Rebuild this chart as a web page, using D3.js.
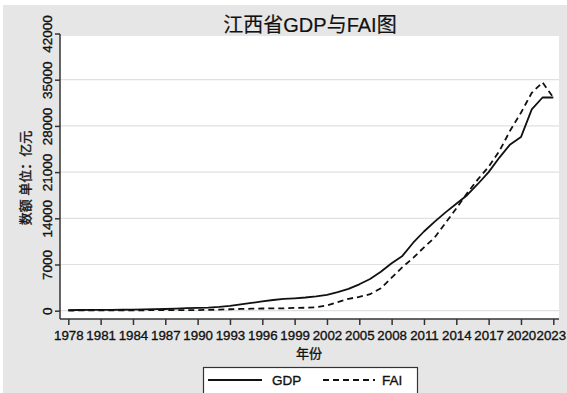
<!DOCTYPE html>
<html>
<head>
<meta charset="utf-8">
<script src="https://cdn.jsdelivr.net/npm/d3@7/dist/d3.min.js"></script>
<style>
  html, body { margin: 0; padding: 0; background: #ffffff; }
  svg { display: block; }
  text { font-family: "Liberation Sans", Arial, "Noto Sans CJK SC", sans-serif; fill: #111; stroke: #111; stroke-width: 0.35px; }
</style>
</head>
<body>
<script>
const years = d3.range(1978, 2024);
const gdp = [90, 105, 115, 125, 135, 145, 170, 210, 230, 260,
             325, 375, 430, 480, 570, 720, 950, 1170, 1410, 1620,
             1780, 1880, 2000, 2170, 2400, 2800, 3300, 4000, 4800, 5900,
             7200, 8300, 10300, 12000, 13500, 14900, 16200, 17500, 19200, 21000,
             23200, 25200, 26300, 30500, 32300, 32300];
const fai = [30, 35, 40, 45, 50, 55, 60, 70, 80, 90,
             100, 100, 100, 120, 160, 220, 270, 300, 330, 350,
             365, 420, 450, 520, 800, 1300, 1800, 2100, 2500, 3400,
             5000, 6600, 8000, 9600, 11100, 13300, 15500, 17800, 19900, 21800,
             24200, 27300, 30000, 33000, 34600, 32300];
const yTicks = [0, 7000, 14000, 21000, 28000, 35000, 42000];
const xTicks = d3.range(1978, 2024, 3);
const seriesNames = ["GDP", "FAI"];
const titleText = "江西省GDP与FAI图";
const xTitle = "年份";
const yTitle = "数额 单位：亿元";

(function () {
const W = 567, H = 393;
const svg = d3.select("body").append("svg").attr("width", W).attr("height", H);

svg.append("rect").attr("x", 3).attr("y", 5).attr("width", W - 3).attr("height", H - 5).attr("fill", "#e6e6e6");

const pL = 60, pR = 559, pT = 34, pB = 319;
const x = d3.scaleLinear().domain([1978, 2023]).range([68.3, 553.3]);
const y = d3.scaleLinear().domain([0, 42000]).range([310.7, 33.5]);

svg.append("rect").attr("x", pL).attr("y", 36).attr("width", pR - pL).attr("height", pB - 36).attr("fill", "#ffffff");

// gridlines
svg.append("g").selectAll("line").data(yTicks.slice(0, -1)).join("line")
  .attr("x1", pL).attr("x2", pR)
  .attr("y1", d => y(d)).attr("y2", d => y(d))
  .attr("stroke", "#e0e0e0").attr("stroke-width", 1.2);

// axes
const yAxis = svg.append("g").attr("transform", `translate(${pL},0)`)
  .call(d3.axisLeft(y).tickValues(yTicks).tickSize(5).tickPadding(6).tickFormat(d3.format("d")));
yAxis.select(".domain").attr("d", `M0,${pT}V${pB}`).attr("stroke", "#333").attr("stroke-width", 1.5);
yAxis.selectAll(".tick line").attr("stroke", "#333").attr("stroke-width", 1.5);
yAxis.selectAll(".tick text")
  .attr("transform", "rotate(-90)")
  .attr("x", 0).attr("y", -8)
  .attr("text-anchor", "middle")
  .attr("dy", "0")
  .style("font-size", "13.5px");

const xAxis = svg.append("g").attr("transform", `translate(0,${pB})`)
  .call(d3.axisBottom(x).tickValues(xTicks).tickSize(6).tickPadding(5).tickFormat(d3.format("d")));
xAxis.select(".domain").attr("d", `M${pL},0H${pR}`).attr("stroke", "#333").attr("stroke-width", 1.5);
xAxis.selectAll(".tick line").attr("stroke", "#333").attr("stroke-width", 1.5);
xAxis.selectAll(".tick text").style("font-size", "13.3px").attr("y", 12)
  .attr("dx", d => d === 2023 ? -2.5 : 0);

// lines
const line = d3.line().x((d, i) => x(years[i])).y(d => y(d)).curve(d3.curveLinear);
svg.append("path").datum(gdp).attr("d", line).attr("fill", "none")
  .attr("stroke", "#111").attr("stroke-width", 1.8).attr("stroke-linejoin", "round");
svg.append("path").datum(fai).attr("d", line).attr("fill", "none")
  .attr("stroke", "#111").attr("stroke-width", 1.8).attr("stroke-dasharray", "6,4");

// titles
svg.append("text").attr("x", 310).attr("y", 32).attr("text-anchor", "middle")
  .style("font-size", "20px").style("stroke-width", "0.2px").text(titleText);
svg.append("text").attr("x", 309).attr("y", 358).attr("text-anchor", "middle")
  .style("font-size", "13px").text(xTitle);
svg.append("text").attr("transform", "translate(30,178) rotate(-90)").attr("text-anchor", "middle")
  .style("font-size", "13px").text(yTitle);

// legend
const lg = svg.append("g");
lg.append("rect").attr("x", 203.5).attr("y", 367.5).attr("width", 214).attr("height", 30)
  .attr("fill", "#ffffff").attr("stroke", "#333").attr("stroke-width", 1.2);
lg.append("line").attr("x1", 208).attr("x2", 262).attr("y1", 380).attr("y2", 380)
  .attr("stroke", "#111").attr("stroke-width", 1.8);
lg.append("text").attr("x", 272).attr("y", 385).style("font-size", "13.5px").text(seriesNames[0]);
lg.append("line").attr("x1", 323).attr("x2", 375).attr("y1", 380).attr("y2", 380)
  .attr("stroke", "#111").attr("stroke-width", 1.8).attr("stroke-dasharray", "6,4");
lg.append("text").attr("x", 382).attr("y", 385).style("font-size", "13.5px").text(seriesNames[1]);
})();
</script>
</body>
</html>
